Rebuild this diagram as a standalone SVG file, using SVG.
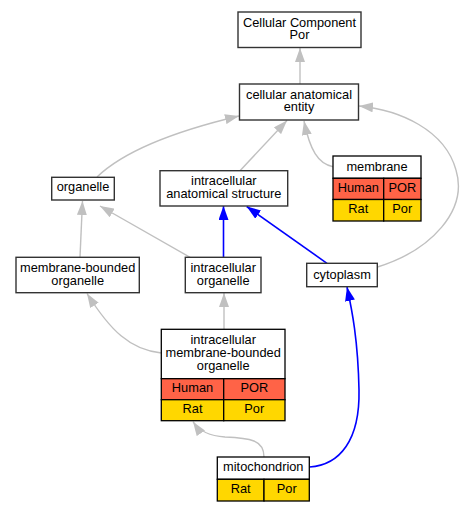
<svg xmlns="http://www.w3.org/2000/svg" width="464" height="512" viewBox="0 0 464 512">
<style>
text{font-family:"Liberation Sans",Arial,sans-serif;font-size:12.8px;text-anchor:middle;fill:#000}
.n{fill:#fff;stroke:#333;stroke-width:1.4}
.w{fill:#fff;stroke:#000;stroke-width:1.3}
.r{fill:#ff6347;stroke:#000;stroke-width:1.3}
.y{fill:#ffd700;stroke:#000;stroke-width:1.3}
.g{fill:none;stroke:#c0c0c0;stroke-width:1.4}
.b{fill:none;stroke:#0000ff;stroke-width:1.6}
.g{marker-end:url(#ag)}
.b{marker-end:url(#ab)}
</style>
<defs>
<marker id="ag" markerUnits="userSpaceOnUse" markerWidth="14" markerHeight="10" viewBox="0 0 14 10" refX="14" refY="5" orient="auto"><path d="M0,0 L14,5 L0,10 z" fill="#c0c0c0"/></marker>
<marker id="ab" markerUnits="userSpaceOnUse" markerWidth="14" markerHeight="10" viewBox="0 0 14 10" refX="14" refY="5" orient="auto"><path d="M0,0 L14,5 L0,10 z" fill="#0000ff"/></marker>
</defs>
<g id="edges">
<path class="g" d="M300,84 L300,48"/>
<path class="g" d="M97,177 C125,150 180,130 239,116"/>
<path class="g" d="M240,170.7 L287,120.5"/>
<path class="g" d="M333,166.7 C318,164 310,150 304,121"/>
<path class="g" d="M377.5,267 C432,250 468,210 456,170 C445,130 400,110 359,106"/>
<path class="g" d="M80,257.3 L82.5,201"/>
<path class="g" d="M190,257.3 L100,206"/>
<path class="b" d="M223.5,257.3 L223.5,206"/>
<path class="b" d="M327,263.3 L246.7,206.5"/>
<path class="g" d="M161.3,353 C130,350 110,330 87,293.5"/>
<path class="g" d="M224,329.3 L224,293"/>
<path class="g" d="M264,457 C264,440 250,438 225,437 C210,436 200,432 193,421.7"/>
<path class="b" d="M309.5,467 C340,465 360,440 359,390 C358,340 352,310 347,287"/>
</g>
<g id="ccp">
<rect class="n" x="238" y="12" width="123" height="35.5"/>
<text x="299.5" y="26.5">Cellular Component</text>
<text x="299.5" y="39">Por</text>
</g>
<g id="cae">
<rect class="n" x="239.5" y="84" width="119" height="36"/>
<text x="299" y="98.8">cellular anatomical</text>
<text x="299" y="111.2">entity</text>
</g>
<g id="membrane">
<rect class="w" x="333" y="156" width="88" height="22.3"/>
<rect class="r" x="333" y="178.3" width="50.7" height="21.2"/>
<rect class="r" x="383.7" y="178.3" width="37.3" height="21.2"/>
<rect class="y" x="333" y="199.5" width="50.7" height="21.5"/>
<rect class="y" x="383.7" y="199.5" width="37.3" height="21.5"/>
<text x="377" y="170.5">membrane</text>
<text x="358.3" y="192">Human</text>
<text x="402.3" y="192">POR</text>
<text x="358.3" y="213">Rat</text>
<text x="402.3" y="213">Por</text>
</g>
<g id="organelle">
<rect class="n" x="51.7" y="177.3" width="62.6" height="22.7"/>
<text x="83" y="191.2">organelle</text>
</g>
<g id="ias">
<rect class="n" x="160" y="170.7" width="127.7" height="35.3"/>
<text x="223.8" y="185.2">intracellular</text>
<text x="223.8" y="197.8">anatomical structure</text>
</g>
<g id="mbo">
<rect class="n" x="16" y="257.3" width="123.3" height="35.4"/>
<text x="77.7" y="271.8">membrane-bounded</text>
<text x="77.7" y="284.5">organelle</text>
</g>
<g id="io">
<rect class="n" x="185.3" y="257.3" width="75.7" height="35.4"/>
<text x="223.2" y="271.8">intracellular</text>
<text x="223.2" y="284.5">organelle</text>
</g>
<g id="cytoplasm">
<rect class="n" x="306.7" y="263.3" width="70.6" height="23.4"/>
<text x="342" y="278.5">cytoplasm</text>
</g>
<g id="imbo">
<rect class="w" x="161.3" y="329.3" width="123.7" height="49.4"/>
<rect class="r" x="161.3" y="378.7" width="62.4" height="21"/>
<rect class="r" x="223.7" y="378.7" width="61.3" height="21"/>
<rect class="y" x="161.3" y="399.7" width="62.4" height="21"/>
<rect class="y" x="223.7" y="399.7" width="61.3" height="21"/>
<text x="223.2" y="343.5">intracellular</text>
<text x="223.2" y="356.8">membrane-bounded</text>
<text x="223.2" y="370.2">organelle</text>
<text x="192.5" y="392.2">Human</text>
<text x="254.3" y="392.2">POR</text>
<text x="192.5" y="413.2">Rat</text>
<text x="254.3" y="413.2">Por</text>
</g>
<g id="mito">
<rect class="w" x="217.3" y="457" width="92" height="22.3"/>
<rect class="y" x="217.3" y="479.3" width="46.7" height="21.7"/>
<rect class="y" x="264" y="479.3" width="45.3" height="21.7"/>
<text x="263.3" y="471.2">mitochondrion</text>
<text x="240.7" y="493">Rat</text>
<text x="286.7" y="493">Por</text>
</g>
</svg>
